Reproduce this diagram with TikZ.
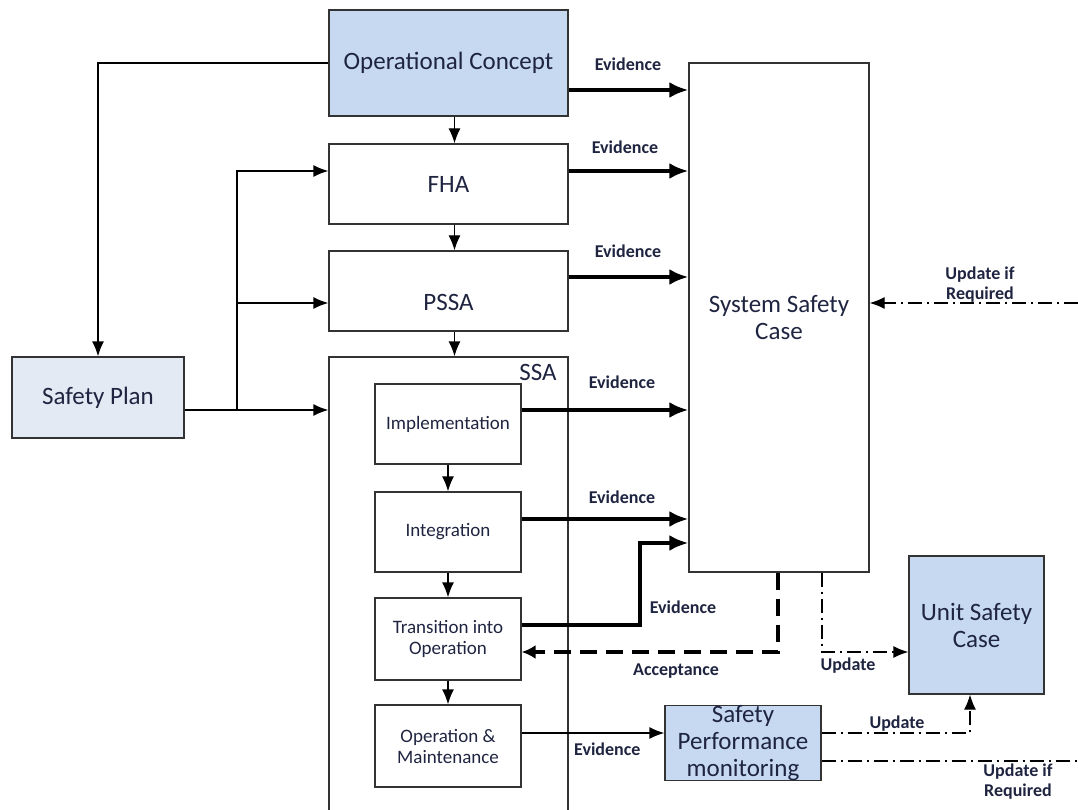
\documentclass[tikz,border=0pt]{standalone}
\usepackage{fontspec}
\setmainfont{Carlito}
\usetikzlibrary{arrows.meta}
\definecolor{boxblue}{HTML}{C6D9F1}
\definecolor{planblue}{HTML}{E4EAF4}
\definecolor{txt}{HTML}{1F2440}
\tikzset{
  >={Latex[length=15pt,width=12pt]},
}
\tikzstyle{block}=[draw=black!80,line width=1.3pt,text=txt,align=center,inner sep=0pt,font=\fontsize{25}{27}\selectfont]
\tikzstyle{stage}=[block,minimum width=146pt,font=\fontsize{19}{21}\selectfont]
\tikzstyle{tag}=[text=txt,align=center,inner sep=0pt,font=\bfseries\fontsize{18}{20}\selectfont]
\tikzstyle{flow}=[line width=1.3pt,->]
\tikzstyle{evid}=[line width=4.5pt,-{Latex[length=19pt,width=16pt]}]
\tikzstyle{accept}=[line width=4pt,dash pattern=on 17pt off 9pt,-{Latex[length=14pt,width=14pt]}]
\tikzstyle{upd}=[line width=1.3pt,dash pattern=on 14pt off 5pt on 2pt off 5pt]

\begin{document}
\begin{tikzpicture}[x=1pt,y=-1pt]
  \path[use as bounding box] (0,0) rectangle (1078,810);
  \clip (0,0) rectangle (1078,810);
  % main chain
  \node[block,fill=boxblue,minimum width=239pt,minimum height=106pt] (opcon) at (448.5,63) {Operational Concept};
  \node[block,minimum width=239pt,minimum height=80pt] (fha) at (448.5,184) {FHA};
  \node[block,minimum width=239pt,minimum height=80pt,text height=40pt] (pssa) at (448.5,291) {PSSA};
  \node[block,minimum width=239pt,minimum height=473pt] (ssa) at (448.5,593.5) {};
  \node[tag,font=\fontsize{25}{27}\selectfont] (ssalbl) at (538,372) {SSA};
  \node[block,fill=planblue,minimum width=172pt,minimum height=81pt] (plan) at (98,397.5) {Safety Plan};
  % SSA stages
  \node[stage,minimum height=80pt] (impl) at (448,424) {Implementation};
  \node[stage,minimum height=80pt] (integ) at (448,532) {Integration};
  \node[stage,minimum height=82pt] (trans) at (448,639) {Transition into\\Operation};
  \node[stage,minimum height=82pt] (om) at (448,746) {Operation \&\\Maintenance};
  % safety cases
  \node[block,minimum width=180pt,minimum height=509pt] (ssc) at (779,317.5) {System Safety\\Case};
  \node[block,fill=boxblue,minimum width=135pt,minimum height=138pt] (usc) at (976.5,625) {Unit Safety\\Case};
  \node[block,fill=boxblue,minimum width=156pt,minimum height=74pt] (spm) at (743,743) {Safety\\Performance\\monitoring};
  \coordinate (split) at (237,410);
  \coordinate (rin) at (1078,303);
  \coordinate (rout) at (1078,761);

  % plain flow
  \draw[flow] (opcon.west) -| (plan.north);
  \draw[flow] ([xshift=6pt]opcon.south) -- ([xshift=6pt]fha.north);
  \draw[flow] ([xshift=6pt]fha.south) -- ([xshift=6pt]pssa.north);
  \draw[flow] ([xshift=6pt]pssa.south) -- ([xshift=6pt]ssa.north);
  \draw[flow] (plan.east |- split) -- (split) -- (ssa.west |- split);
  \draw[flow] (split) |- ([yshift=13pt]fha.west);
  \draw[flow] (split) |- ([yshift=-12pt]pssa.west);
  \draw[flow] (impl) -- (integ);
  \draw[flow] (integ) -- (trans);
  \draw[flow] (trans) -- (om);
  \draw[flow] ([yshift=13pt]om.east) -- ([yshift=13pt]om.east -| spm.west)
    node[tag,pos=0.6,below=9pt] {Evidence};

  % evidence into the system safety case
  \draw[evid] ([yshift=-27pt]opcon.east) -- ([yshift=-27pt]opcon.east -| ssc.west);
  \draw[evid] ([yshift=13pt]fha.east) -- ([yshift=13pt]fha.east -| ssc.west);
  \draw[evid] ([yshift=14pt]pssa.east) -- ([yshift=14pt]pssa.east -| ssc.west);
  \draw[evid] ([yshift=14pt]impl.east) -- ([yshift=14pt]impl.east -| ssc.west);
  \draw[evid] ([yshift=13pt]integ.east) -- ([yshift=13pt]integ.east -| ssc.west);
  \draw[evid] ([yshift=14pt]trans.east) -| (640,543) -- (ssc.west |- 0,543);
  \node[tag] at (628,64) {Evidence};
  \node[tag] at (625,147) {Evidence};
  \node[tag] at (628,251) {Evidence};
  \node[tag] at (622,382) {Evidence};
  \node[tag] at (622,497) {Evidence};
  \node[tag] at (683,607) {Evidence};

  % acceptance and updates
  \draw[accept] ([xshift=-1pt]ssc.south) |- ([yshift=-13pt]trans.east);
  \node[tag] at (676,671) {Acceptance};
  \draw[upd,->] ([xshift=43pt]ssc.south) |- ([yshift=-27pt]usc.west);
  \node[tag] at (848,666) {Update};
  \draw[upd,->] (rin) -- (rin -| ssc.east);
  \node[tag] at (980,285) {Update if\\Required};
  \draw[upd,->] ([yshift=10pt]spm.east) -| ([xshift=-6.5pt]usc.south);
  \node[tag] at (897,724) {Update};
  \draw[upd] ([yshift=-18pt]spm.east) -- (rout);
  \node[tag] at (1018,782) {Update if\\Required};
\end{tikzpicture}
\end{document}
